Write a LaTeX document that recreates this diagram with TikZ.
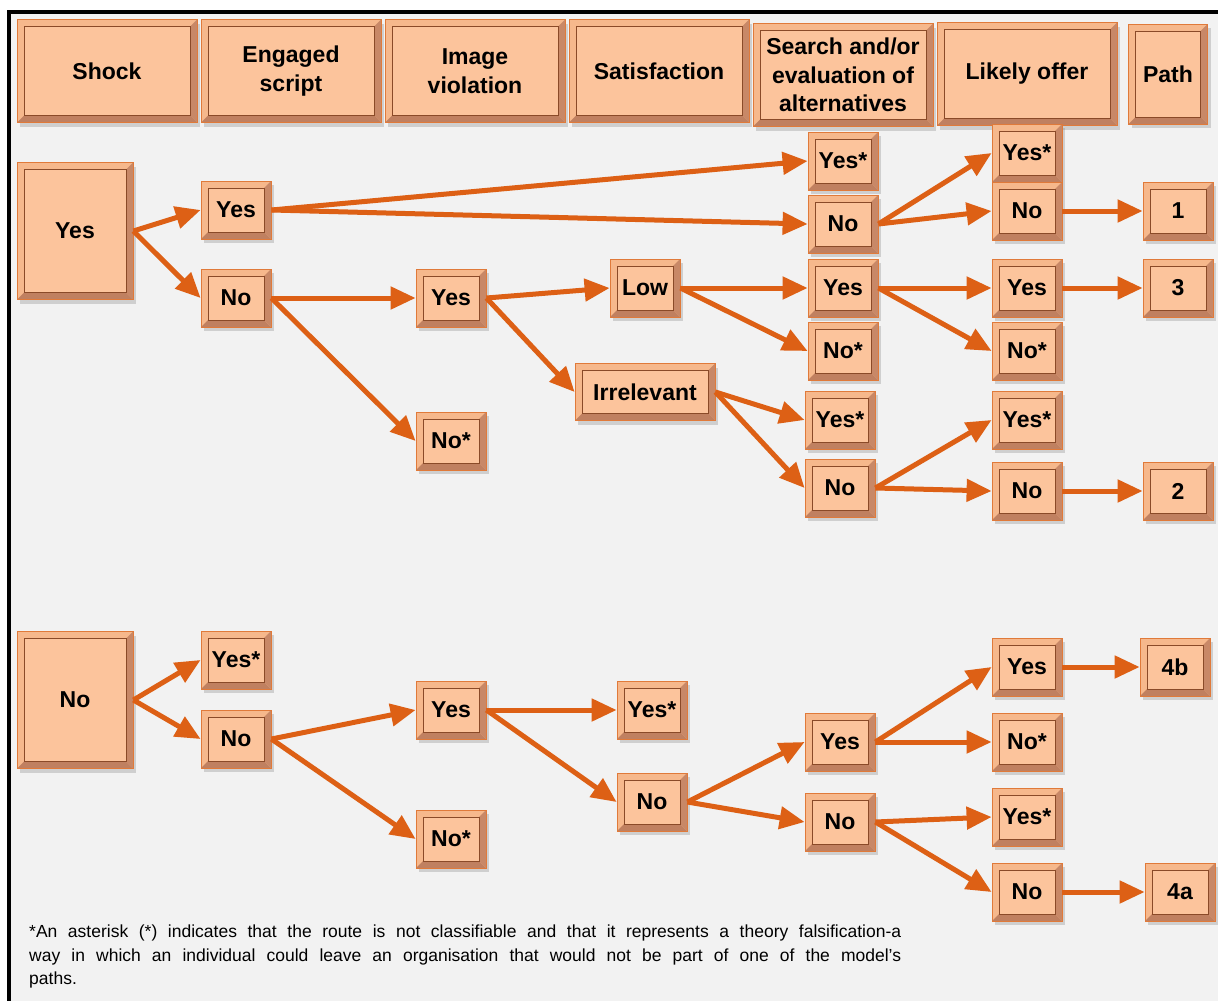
\documentclass[tikz,border=0pt]{standalone}
\usepackage{fontspec}
\setmainfont{Liberation Sans}
\usetikzlibrary{arrows.meta,shadows}
\definecolor{faceC}{HTML}{FCC49C}
\definecolor{ringC}{HTML}{F6B88C}
\definecolor{ringD}{HTML}{C08060}
\definecolor{edgeC}{HTML}{E07A3A}
\definecolor{bevelC}{HTML}{8A4A28}
\definecolor{flowC}{HTML}{DD6015}
\definecolor{paperC}{HTML}{F2F2F2}
\begin{document}
\begin{tikzpicture}[
      x=1pt, y=-1pt,
      box/.style={draw=edgeC, line width=0.8pt, fill=ringC, inner sep=0pt,
                  minimum width=70pt, minimum height=58pt, align=center,
                  font=\bfseries\fontsize{23}{28.5}\selectfont, text=black,
                  drop shadow={shadow xshift=3pt, shadow yshift=-4pt, opacity=0.3},
                  path picture={
                    \path (path picture bounding box.north west) coordinate (bNW)
                          (path picture bounding box.south east) coordinate (bSE);
                    \fill[ringD] (bSE) -- (bSE -| bNW) -- ++(7pt,7pt)
                      -- ([shift={(-7pt,7pt)}]bSE) -- cycle;
                    \fill[ringD!85!ringC] (bSE) -- (bSE |- bNW) -- ++(-7pt,-7pt)
                      -- ([shift={(-7pt,7pt)}]bSE) -- cycle;
                    \draw[bevelC, line width=0.6pt, fill=faceC]
                      ([shift={(7pt,-7pt)}]bNW) rectangle ([shift={(-7pt,7pt)}]bSE);
                  }},
      hdr/.style={box, minimum width=180pt, minimum height=103pt},
      big/.style={box, minimum width=116pt, minimum height=137pt},
      flow/.style={draw=flowC, line width=5pt,
                   -{Triangle[length=25pt,width=22pt]}}
    ]
      \useasboundingbox (0,0) rectangle (1218,1001);
      \clip (0,0) rectangle (1218,1001);
      \fill[white] (0,0) rectangle (1218,1001);
      \draw[line width=4pt, fill=paperC] (9,12) rectangle (1240,1020);
      \foreach \n/\x/\y/\t in {hShock/107/71/Shock, hScript/291/71/{Engaged\\script},
          hImage/475/71/{Image\\violation}, hSat/659/71/Satisfaction,
          hSearch/843/75/{Search and/or\\evaluation of\\alternatives},
          hOffer/1027/74/Likely offer} {
        \node[hdr] (\n) at (\x,\y) {\t};
      }
      \node[hdr, minimum width=79pt, minimum height=100pt] (hPath) at (1168,74) {Path};
      \node[big] (sYes) at (75,231) {Yes};
      \node[big] (sNo) at (75,700) {No};
      \node[box, minimum width=140pt, minimum height=57pt] (satIrr) at (645,392) {Irrelevant};
      \foreach \n/\x/\y/\t in {eYes/236/210/Yes, eNo/236/298/No, iYes/451/298/Yes,
          iNo/451/441/No*, satLow/645/288/Low,
          aYesA/843/161/Yes*, aNoA/843/224/No, aYesB/843/288/Yes, aNoB/843/351/No*,
          aYesC/840/420/Yes*, aNoC/840/488/No,
          oYesA/1027/153/Yes*, oNoA/1027/211/No, oYesB/1027/288/Yes, oNoB/1027/351/No*,
          oYesC/1027/420/Yes*, oNoC/1027/491/No,
          p1/1178/211/1, p3/1178/288/3, p2/1178/491/2,
          eYes2/236/660/Yes*, eNo2/236/739/No, iYes2/451/710/Yes, iNo2/451/839/No*,
          satYes2/652/710/Yes*, satNo2/652/802/No, aYesD/840/742/Yes, aNoD/840/822/No,
          oYesD/1027/667/Yes, oNoD/1027/742/No*, oYesE/1027/817/Yes*, oNoE/1027/892/No,
          p4b/1175/667/4b, p4a/1180/892/4a} {
        \node[box] (\n) at (\x,\y) {\t};
      }
      \foreach \a/\b in {sYes/eYes, sYes/eNo, eYes/aYesA, eYes/aNoA, aNoA/oYesA, aNoA/oNoA,
          oNoA/p1, eNo/iYes, eNo/iNo, iYes/satLow, iYes/satIrr, satLow/aYesB, satLow/aNoB,
          aYesB/oYesB, aYesB/oNoB, oYesB/p3, satIrr/aYesC, satIrr/aNoC, aNoC/oYesC,
          aNoC/oNoC, oNoC/p2,
          sNo/eYes2, sNo/eNo2, eNo2/iYes2, eNo2/iNo2, iYes2/satYes2, iYes2/satNo2,
          satNo2/aYesD, satNo2/aNoD, aYesD/oYesD, aYesD/oNoD, oYesD/p4b,
          aNoD/oYesE, aNoD/oNoE, oNoE/p4a} {
        \draw[flow] (\a.east) -- (\b.west);
      }
      \node[anchor=north west, text width=872pt, align=justify, inner sep=0pt,
            font=\fontsize{17.5}{23.5}\selectfont] (note) at (29,925)
        {*An asterisk (*) indicates that the route is not classifiable and that it
         represents a theory falsification-a\linebreak way in which an individual could
         leave an organisation that would not be part of one of the model's\linebreak paths.};
    \end{tikzpicture}
\end{document}
